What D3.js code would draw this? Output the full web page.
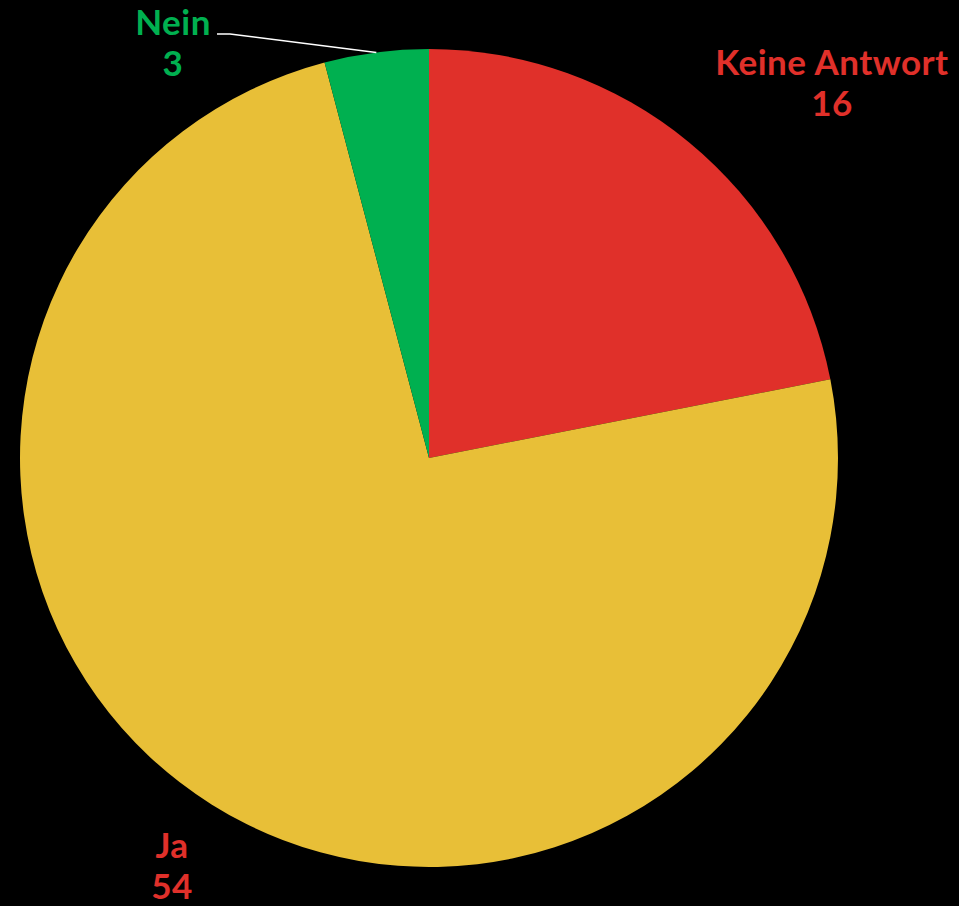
<!DOCTYPE html>
<html><head><meta charset="utf-8">
<script src="https://cdn.jsdelivr.net/npm/d3@7"></script>
<style>html,body{margin:0;padding:0;background:#000;}svg{display:block;}</style>
</head><body>
<script>
const categories = ["Keine Antwort", "Ja", "Nein"];
const values = [16, 54, 3];
const sliceColors = ["#E0302A", "#E8BF37", "#00B050"];
const labelColors = ["#E0302A", "#E0302A", "#00B050"];

const W = 959, H = 906;
const cx = 429, cy = 458, R = 409;

const svg = d3.select("body").append("svg").attr("width", W).attr("height", H)
  .style("background", "#000");

const data = categories.map((c, i) => ({ cat: c, value: values[i], color: sliceColors[i], lc: labelColors[i] }));
const pie = d3.pie().value(d => d.value).sort(null);
const arcs = pie(data);
const arc = d3.arc().innerRadius(0).outerRadius(R);

const g = svg.append("g").attr("transform", `translate(${cx},${cy})`);
g.selectAll("path").data(arcs).enter().append("path")
  .attr("d", arc).attr("fill", d => d.data.color);

const labelPos = {
  "Keine Antwort": { x: 832, y: 75 },
  "Ja": { x: 172, y: 858 },
  "Nein": { x: 173, y: 35 }
};
const lineGap = 41;
const font = "Lato, 'Open Sans', sans-serif";

arcs.forEach(a => {
  const p = labelPos[a.data.cat];
  const t = svg.append("text").attr("text-anchor", "middle")
    .attr("font-family", font).attr("font-weight", "bold").attr("font-size", 35)
    .attr("letter-spacing", 0.5)
    .attr("fill", a.data.lc);
  t.append("tspan").attr("x", p.x).attr("y", p.y).text(a.data.cat);
  t.append("tspan").attr("x", p.x).attr("y", p.y + lineGap).text(a.data.value);
});

// leader line for Nein
const nein = arcs[2];
const mid = (nein.startAngle + nein.endAngle) / 2;
const ex = cx + R * Math.sin(mid), ey = cy - R * Math.cos(mid);
svg.append("path")
  .attr("d", `M217,34 L230,34 L${ex},${ey}`)
  .attr("fill", "none").attr("stroke", "#fff").attr("stroke-width", 1.5);
</script>
</body></html>
